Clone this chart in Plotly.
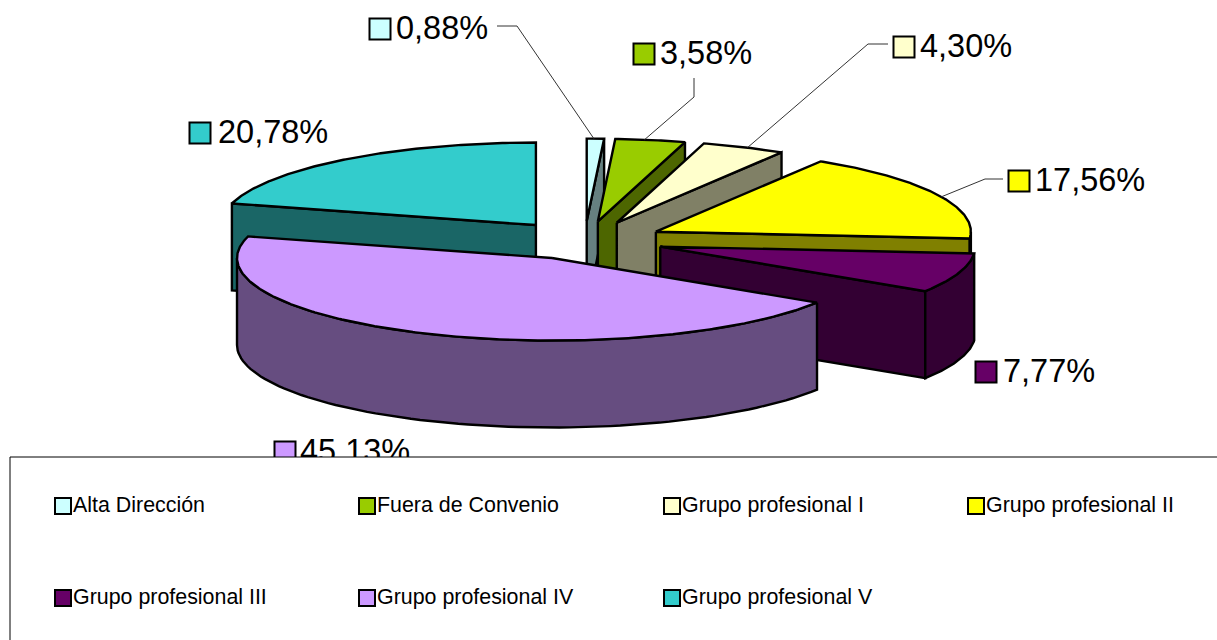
import numpy as np
import plotly.graph_objects as go

categories = ["Alta Dirección", "Fuera de Convenio", "Grupo profesional I", "Grupo profesional II",
              "Grupo profesional III", "Grupo profesional IV", "Grupo profesional V"]
values = [0.88, 3.58, 4.30, 17.56, 7.77, 45.13, 20.78]
value_labels = ["0,88%", "3,58%", "4,30%", "17,56%", "7,77%", "45,13%", "20,78%"]
top_colors = ["#CCFFFF", "#99CC00", "#FFFFCC", "#FFFF00", "#660066", "#CC99FF", "#33CCCC"]
wall_colors = ["#668080", "#4D6600", "#808066", "#808000", "#330033", "#664D80", "#1A6666"]

# pie geometry (page pixels)
CX, CY, RX, RY, DEPTH = 584.5, 240.4, 315.0, 82.5, 87.0
EXPLODE_X, EXPLODE_Y = 80.0, 19.3
# data label anchor: marker x, text x, y
label_pos = [(380, 396, 29), (644, 660, 54), (904, 920, 47), (1019, 1035, 181),
             (986, 1003, 372), (285, 300, 452), (200, 218, 133)]
LABEL_TEXT_DY = 2
# leader: start, elbow (only for the labels that have one)
leaders = {0: [(497, 26), (517, 26)], 1: [(694, 78), (694, 97)],
           2: [(888, 44), (868, 44)], 3: [(1003, 179), (985, 179)]}
legend_pos = [(63, 506), (367, 506), (672, 506), (976, 506), (63, 598), (367, 598), (672, 598)]

fig = go.Figure()


def poly(xs, ys, fill, width=2.4):
    fig.add_trace(go.Scatter(x=list(xs) + [xs[0]], y=list(ys) + [ys[0]], mode="lines", fill="toself",
                             fillcolor=fill, line=dict(color="black", width=width),
                             hoverinfo="skip", showlegend=False))


total = sum(values)
edges = np.cumsum([0] + values) / total * 360.0
slices = []
for i, v in enumerate(values):
    a0, a1 = edges[i], edges[i + 1]
    mid = np.radians((a0 + a1) / 2)
    slices.append(dict(i=i, a0=a0, a1=a1, ax=CX + EXPLODE_X * np.sin(mid), ay=CY - EXPLODE_Y * np.cos(mid)))


def rim(s, deg):
    t = np.radians(deg)
    return s["ax"] + RX * np.sin(t), s["ay"] - RY * np.cos(t)


def cut_wall(s, deg, color):
    x, y = rim(s, deg)
    poly([s["ax"], x, x, s["ax"]], [s["ay"], y, y + DEPTH, s["ay"] + DEPTH], color)


# back to front: last slice (behind) first, then clockwise
order = [6, 0, 1, 2, 3, 4, 5]
for idx in order:
    s = slices[idx]
    wall = wall_colors[idx]
    if np.sin(np.radians(s["a0"])) < 0:
        cut_wall(s, s["a0"], wall)
    if 0 < s["a1"] < 180:
        cut_wall(s, s["a1"], wall)
    lo, hi = max(s["a0"], 90), min(s["a1"], 270)
    if hi > lo:
        ang = np.linspace(lo, hi, 80)
        px, py = rim(s, ang)
        poly(list(px) + list(px[::-1]), list(py) + list(py[::-1] + DEPTH), wall)
    ang = np.linspace(s["a0"], s["a1"], max(4, int(s["a1"] - s["a0"]) * 2))
    px, py = rim(s, ang)
    poly([s["ax"]] + list(px), [s["ay"]] + list(py), top_colors[idx])

# leader lines end on the slice rim
leader_angle = {0: 1.3, 1: 8.5, 2: 24.5, 3: 65.0}
for idx, pts in leaders.items():
    ex, ey = rim(slices[idx], leader_angle[idx])
    fig.add_trace(go.Scatter(x=[p[0] for p in pts] + [ex], y=[p[1] for p in pts] + [ey], mode="lines",
                             line=dict(color="#333333", width=1), hoverinfo="skip", showlegend=False))

# data labels
for idx, (mx, tx, y) in enumerate(label_pos):
    fig.add_trace(go.Scatter(x=[mx], y=[y], mode="markers",
                             marker=dict(symbol="square", size=21, color=top_colors[idx],
                                         line=dict(color="black", width=2)),
                             hoverinfo="skip", showlegend=False))
    fig.add_trace(go.Scatter(x=[tx], y=[y + LABEL_TEXT_DY], mode="text", text=[value_labels[idx]],
                             textposition="middle right",
                             textfont=dict(family="Liberation Sans", size=32.5, color="black"),
                             hoverinfo="skip", showlegend=False))

# legend box (drawn over the bottom label, which it cuts off)
fig.add_trace(go.Scatter(x=[10, 1300, 1300, 10, 10], y=[457, 457, 700, 700, 457], mode="lines", fill="toself",
                         fillcolor="white", line=dict(color="black", width=1), hoverinfo="skip", showlegend=False))
for idx, (mx, y) in enumerate(legend_pos):
    fig.add_trace(go.Scatter(x=[mx], y=[y], mode="markers",
                             marker=dict(symbol="square", size=16, color=top_colors[idx],
                                         line=dict(color="black", width=2)),
                             hoverinfo="skip", showlegend=False))
    fig.add_trace(go.Scatter(x=[mx + 10], y=[y + 1], mode="text", text=[categories[idx]], textposition="middle right",
                             textfont=dict(family="Liberation Sans", size=21.4, color="black"),
                             hoverinfo="skip", showlegend=False))

fig.update_layout(width=1217, height=640, margin=dict(l=0, r=0, t=0, b=0), autosize=False,
                  paper_bgcolor="white", plot_bgcolor="white", showlegend=False,
                  xaxis=dict(range=[0, 1217], visible=False, fixedrange=True),
                  yaxis=dict(range=[640, 0], visible=False, fixedrange=True))
fig.write_html("out.html", config=dict(displayModeBar=False),
               post_script="document.body.style.margin='0';document.body.style.overflow='hidden';")
